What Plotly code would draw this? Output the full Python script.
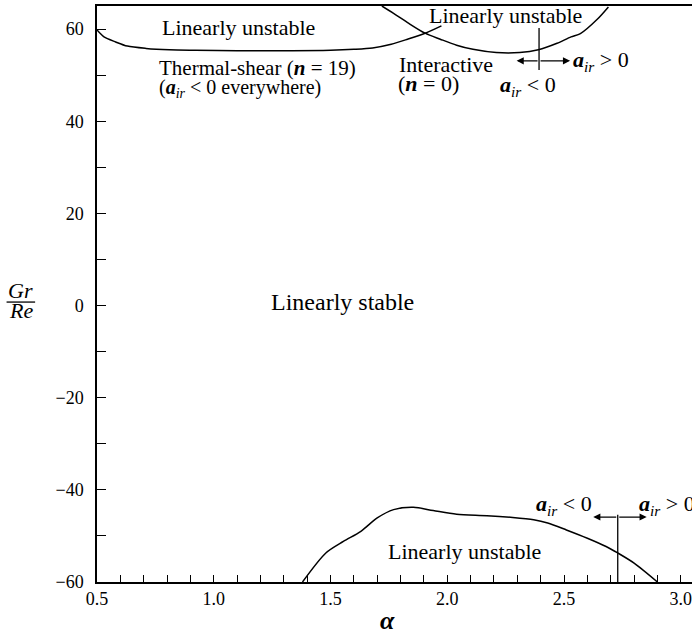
import plotly.graph_objects as go

# ---- data ----
# Thermal-shear mode (n = 19) neutral curve, upper left
alpha_ts = [0.50, 0.53, 0.58, 0.63, 0.71, 0.81, 0.92, 1.10, 1.30, 1.50, 1.60, 1.68, 1.76, 1.83, 1.905, 1.975]
gr_ts = [59.8, 58.3, 57.2, 56.3, 55.8, 55.5, 55.4, 55.3, 55.3, 55.4, 55.6, 55.9, 56.7, 57.8, 59.1, 60.7]

# Interactive mode (n = 0) neutral curve, upper right
alpha_int = [1.72, 1.77, 1.83, 1.905, 1.97, 2.04, 2.11, 2.21, 2.31, 2.39, 2.47, 2.53, 2.57, 2.64, 2.69]
gr_int = [65.0, 63.4, 61.4, 59.1, 57.8, 56.5, 55.6, 54.9, 54.9, 55.5, 56.9, 58.3, 59.0, 62.0, 64.8]

# Lower neutral curve
alpha_bot = [1.38, 1.48, 1.555, 1.63, 1.70, 1.77, 1.855, 1.94, 2.04, 2.17, 2.28, 2.37, 2.43, 2.51, 2.60, 2.68, 2.73, 2.80, 2.90]
gr_bot = [-60.0, -53.7, -51.2, -49.0, -46.1, -44.3, -43.8, -44.5, -45.3, -45.6, -46.0, -46.5, -47.2, -48.7, -50.5, -52.3, -53.7, -55.9, -60.0]

# Sign-change markers of a_ir (vertical lines)
marker_top_alpha = [2.393, 2.393]
marker_top_gr = [60.2, 51.1]
marker_bot_alpha = [2.73, 2.73]
marker_bot_gr = [-45.4, -60.0]

x_range = [0.5, 3.048]
y_range = [-60, 65]

FONT = "Liberation Serif"
BLACK = "black"

fig = go.Figure()
line_style = dict(color=BLACK, width=1.5, shape="spline", smoothing=0.8)
for xs, ys in [(alpha_ts, gr_ts), (alpha_int, gr_int), (alpha_bot, gr_bot)]:
    fig.add_trace(go.Scatter(x=xs, y=ys, mode="lines", line=line_style,
                             showlegend=False, hoverinfo="skip"))
for xs, ys in [(marker_top_alpha, marker_top_gr), (marker_bot_alpha, marker_bot_gr)]:
    fig.add_trace(go.Scatter(x=xs, y=ys, mode="lines", line=dict(color=BLACK, width=1.3),
                             showlegend=False, hoverinfo="skip"))

AIR = "<b><i>a</i></b><sub><i>ir</i></sub>"

texts = [
    # text, x, y, xanchor, size
    ("Linearly unstable", 1.108, 60.4, "center", 22),
    ("Thermal-shear (<b><i>n</i></b> = 19)", 0.763, 51.6, "left", 21),
    ("(" + AIR + " &lt; 0 everywhere)", 0.763, 47.2, "left", 20),
    ("Linearly unstable", 1.918, 63.0, "left", 22),
    ("Interactive", 1.789, 52.4, "left", 22),
    ("(<b><i>n</i></b> = 0)", 1.785, 48.1, "left", 22),
    (AIR + " &gt; 0", 2.534, 53.1, "left", 22),
    (AIR + " &lt; 0", 2.345, 47.6, "center", 22),
    ("Linearly stable", 1.553, 0.8, "center", 24),
    ("Linearly unstable", 2.072, -53.4, "center", 22),
    (AIR + " &lt; 0", 2.50, -43.3, "center", 22),
    (AIR + " &gt; 0", 2.818, -43.3, "left", 22),
]
for t, x, y, xa, sz in texts:
    fig.add_annotation(x=x, y=y, xref="x", yref="y", text=t, showarrow=False,
                       xanchor=xa, yanchor="middle", borderpad=0,
                       font=dict(family=FONT, size=sz, color=BLACK))

# arrows (tip at x, tail at ax)
arrows = [
    (2.297, 53.1, 2.393, 53.1),
    (2.526, 53.1, 2.393, 53.1),
    (2.625, -45.9, 2.73, -45.9),
    (2.854, -45.9, 2.73, -45.9),
]
for x, y, ax, ay in arrows:
    fig.add_annotation(x=x, y=y, ax=ax, ay=ay, xref="x", yref="y", axref="x", ayref="y",
                       text="", showarrow=True, arrowhead=2, arrowsize=1.1,
                       arrowwidth=1.3, arrowcolor=BLACK)

# y-axis title as a fraction Gr / Re
FRAC_Y = 0.486
fig.add_annotation(x=-0.128, y=FRAC_Y, xref="paper", yref="paper", text="<i>Gr</i>",
                   showarrow=False, xanchor="center", yanchor="bottom", yshift=-3,
                   font=dict(family=FONT, size=22, color=BLACK))
fig.add_annotation(x=-0.128, y=FRAC_Y, xref="paper", yref="paper", text="<i>Re</i>",
                   showarrow=False, xanchor="center", yanchor="top", yshift=6,
                   font=dict(family=FONT, size=22, color=BLACK))
fig.add_shape(type="line", xref="paper", yref="paper", x0=-0.152, x1=-0.104,
              y0=FRAC_Y, y1=FRAC_Y, line=dict(color=BLACK, width=1.3))

# x-axis title alpha
fig.add_annotation(x=1.746, y=-0.066, xref="x", yref="paper", text="<b><i>α</i></b>",
                   showarrow=False, xanchor="center", yanchor="middle",
                   font=dict(family=FONT, size=26, color=BLACK))

fig.update_layout(
    width=692, height=638,
    margin=dict(l=97, r=0, t=6, b=56),
    paper_bgcolor="white", plot_bgcolor="white",
    showlegend=False,
    xaxis=dict(range=x_range, showgrid=False, zeroline=False,
               showline=True, linecolor=BLACK, linewidth=1.5, mirror=True,
               tickmode="linear", tick0=0.5, dtick=0.5, tickformat=".1f",
               ticks="inside", ticklen=7, tickwidth=1.2, tickcolor=BLACK,
               ticklabeloverflow="allow",
               minor=dict(dtick=0.1, tick0=0.5, ticks="inside", ticklen=7,
                          tickwidth=1.2, tickcolor=BLACK, showgrid=False),
               tickfont=dict(family=FONT, size=18, color=BLACK)),
    yaxis=dict(range=y_range, showgrid=False, zeroline=False,
               showline=True, linecolor=BLACK, linewidth=1.5, mirror=False,
               tickmode="linear", tick0=-60, dtick=20,
               ticks="inside", ticklen=9, tickwidth=1.2, tickcolor=BLACK,
               ticklabeloverflow="allow",
               minor=dict(dtick=10, tick0=-60, ticks="inside", ticklen=9,
                          tickwidth=1.2, tickcolor=BLACK, showgrid=False),
               ticklabelstandoff=8,
               tickfont=dict(family=FONT, size=18, color=BLACK)),
)

fig.write_html("out.html", config={"displayModeBar": False},
               post_script="document.body.style.margin='0px';")
